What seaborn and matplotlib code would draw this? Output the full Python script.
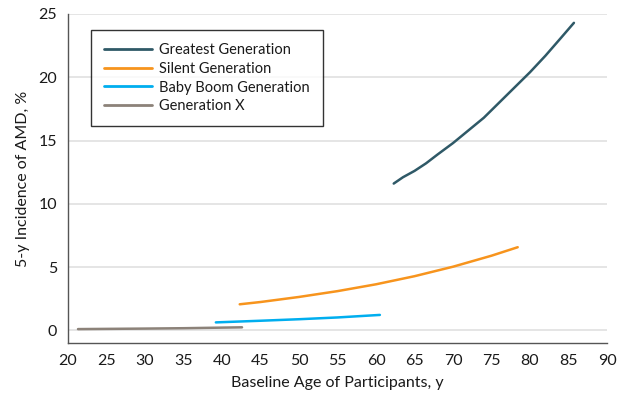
import pandas as pd
import matplotlib
matplotlib.use("Agg")
import matplotlib.pyplot as plt
import seaborn as sns

# values
greatest_age = [62.3, 63.5, 65.0, 66.5, 68.0, 70.0, 72.0, 74.0, 76.0,
                78.0, 80.0, 82.0, 84.0, 85.7]
greatest_inc = [11.6, 12.1, 12.6, 13.2, 13.9, 14.8, 15.8, 16.8, 18.0,
                19.2, 20.4, 21.7, 23.1, 24.3]

silent_age = [42.3, 45.0, 50.0, 55.0, 60.0, 65.0, 70.0, 75.0, 78.4]
silent_inc = [2.06, 2.24, 2.64, 3.10, 3.64, 4.28, 5.03, 5.90, 6.57]

boomer_age = [39.2, 45.0, 50.0, 55.0, 60.5]
boomer_inc = [0.63, 0.76, 0.88, 1.02, 1.22]

genx_age = [21.3, 30.0, 35.0, 42.6]
genx_inc = [0.10, 0.14, 0.17, 0.24]

generations = ["Greatest Generation", "Silent Generation",
               "Baby Boom Generation", "Generation X"]
colors = ["#2f5967", "#f7941d", "#00aeef", "#8c8279"]

df = pd.concat([
    pd.DataFrame({"age": greatest_age, "inc": greatest_inc, "gen": generations[0]}),
    pd.DataFrame({"age": silent_age, "inc": silent_inc, "gen": generations[1]}),
    pd.DataFrame({"age": boomer_age, "inc": boomer_inc, "gen": generations[2]}),
    pd.DataFrame({"age": genx_age, "inc": genx_inc, "gen": generations[3]}),
])

sns.set_style("white")
plt.rcParams["font.family"] = ["Lato", "DejaVu Sans"]

fig = plt.figure(figsize=(6.21, 3.95), dpi=100)
ax = fig.add_axes([0.1095, 0.1316, 0.868, 0.833])

sns.lineplot(data=df, x="age", y="inc", hue="gen", hue_order=generations,
             palette=dict(zip(generations, colors)), linewidth=1.8, ax=ax,
             estimator=None, sort=True)

ax.set_xlim(20, 90)
ax.set_ylim(-1, 25)
ax.set_xticks(range(20, 91, 5))
ax.set_yticks(range(0, 26, 5))
ax.yaxis.grid(True, color="#e0e0e0", linewidth=1.2)
ax.set_axisbelow(True)
for s in ["top", "right"]:
    ax.spines[s].set_visible(False)
for s in ["left", "bottom"]:
    ax.spines[s].set_color("#555555")
    ax.spines[s].set_linewidth(1)
ax.spines["left"].set_bounds(-1, 25)
ax.tick_params(axis="both", direction="out", length=5, width=1,
               color="#555555", labelsize=11.5, labelcolor="#1a1a1a", pad=3)

ax.set_xlabel("Baseline Age of Participants, y", fontsize=11.5,
              color="#1a1a1a", labelpad=6)
ax.set_ylabel("5-y Incidence of AMD, %", fontsize=11.5, color="#1a1a1a",
              labelpad=6)

leg = ax.legend(loc="upper left", bbox_to_anchor=(0.043, 0.951),
                borderaxespad=0, frameon=True, fancybox=False, fontsize=10.5,
                handlelength=3.3, borderpad=0.9, labelspacing=0.32,
                handletextpad=0.45)
leg.get_frame().set_edgecolor("black")
leg.get_frame().set_linewidth(1)
for line in leg.get_lines():
    line.set_linewidth(2)
for t in leg.get_texts():
    t.set_color("#1a1a1a")

fig.savefig("out.png", dpi=100)
